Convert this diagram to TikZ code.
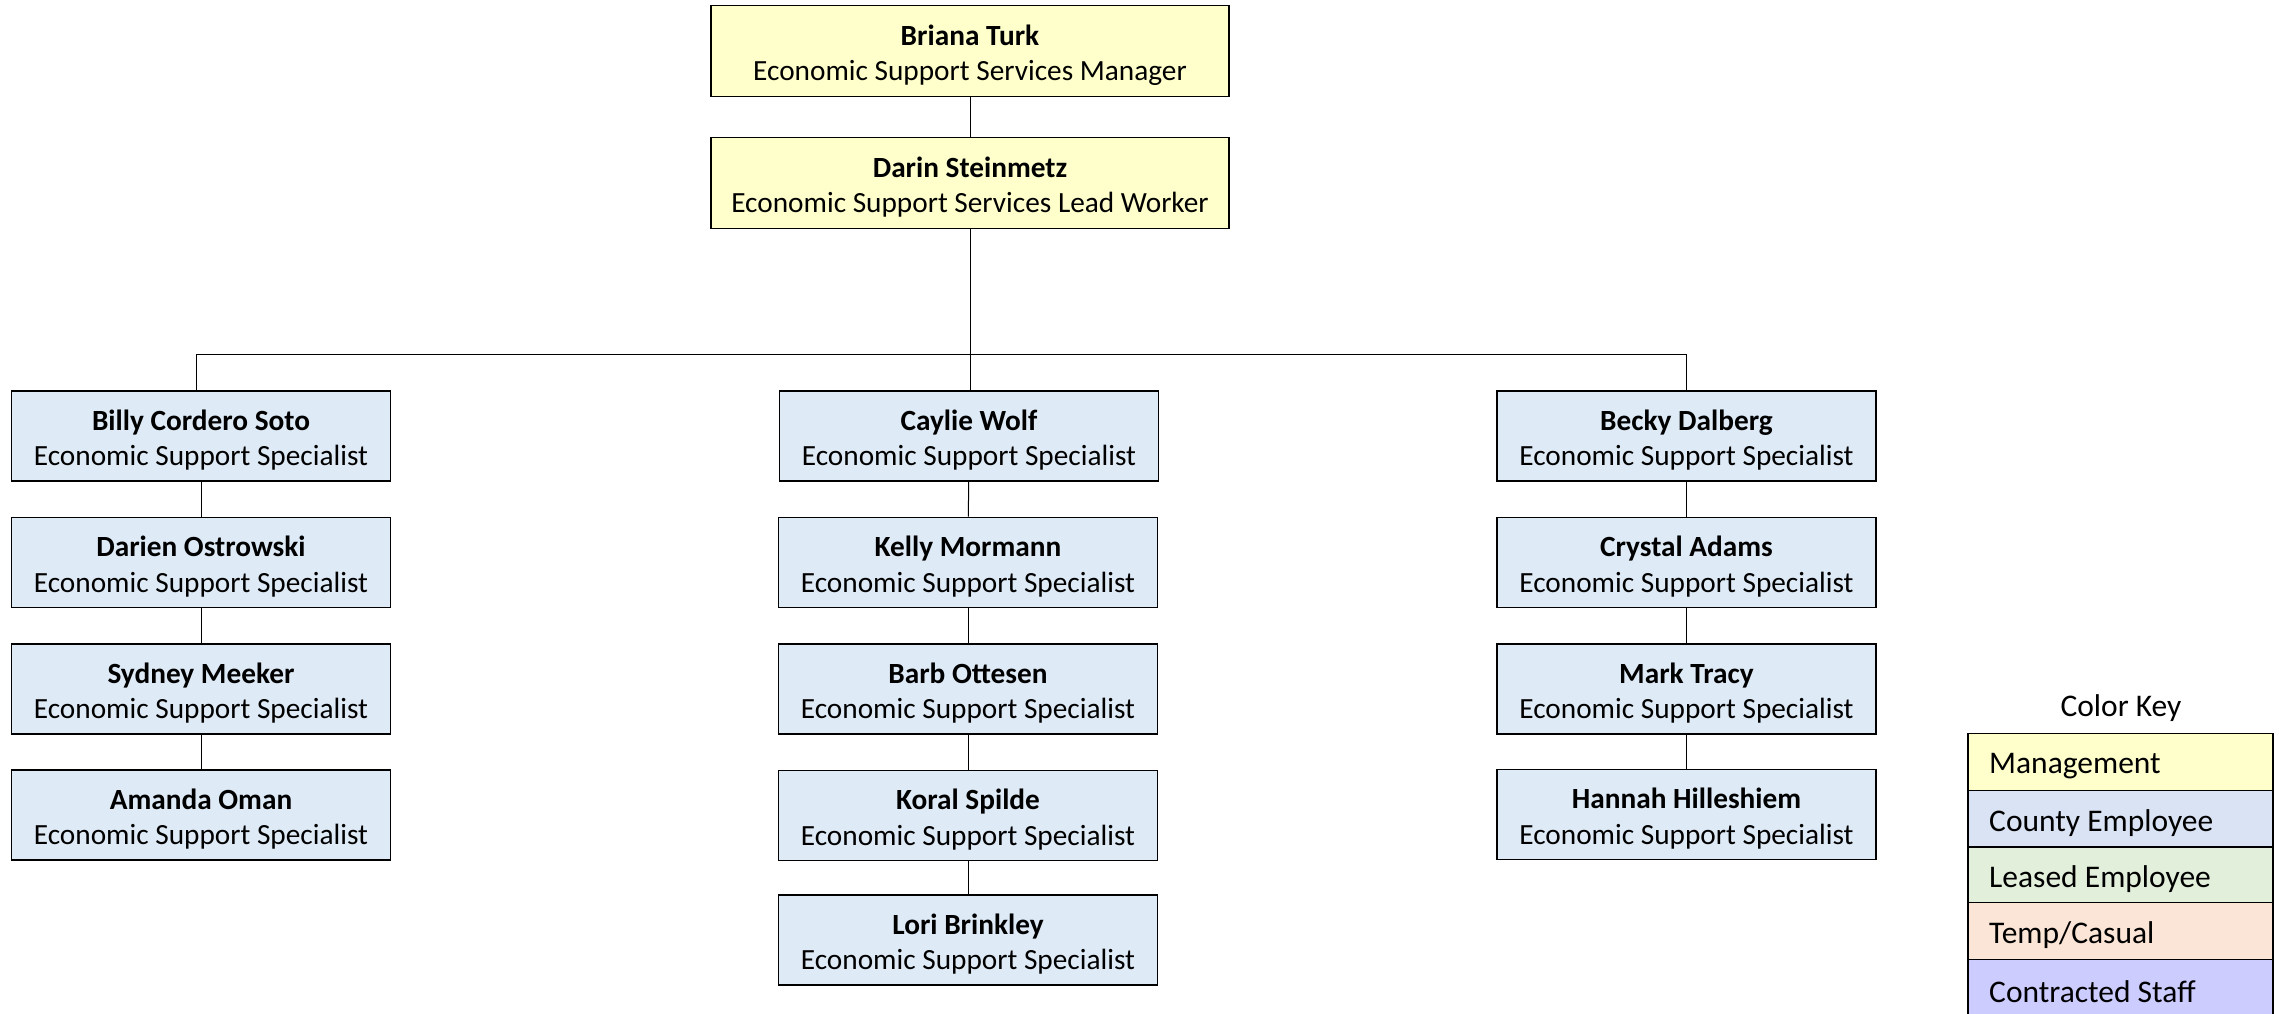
\documentclass[tikz,border=0pt]{standalone}
\usepackage{fontspec}
\setmainfont{Carlito}
\definecolor{mgmt}{HTML}{FFFFCC}
\definecolor{county}{HTML}{DEEAF6}
\definecolor{keycounty}{HTML}{DAE3F3}
\definecolor{leased}{HTML}{E2EFDA}
\definecolor{temp}{HTML}{FBE5D6}
\definecolor{contract}{HTML}{CCCCFF}
\newcommand{\pname}[1]{\rule{0pt}{29pt}\textbf{#1}}
\begin{document}
\begin{tikzpicture}[x=1pt,y=-1pt,
  box/.style={draw=black,line width=1.6pt,minimum width=379pt,minimum height=90pt,inner sep=0pt,align=center,font=\fontsize{29.3}{35.5}\selectfont},
  mbox/.style={box,fill=mgmt,minimum width=518pt,minimum height=91pt},
  cbox/.style={box,fill=county},
  conn/.style={draw=black,line width=1pt},
  keybox/.style={draw=black,line width=1.6pt,minimum width=305pt,minimum height=57pt,inner sep=0pt},
  keytext/.style={anchor=west,inner sep=0pt,yshift=-4pt,font=\fontsize{31.5}{36}\selectfont}]
\useasboundingbox (0,0) rectangle (2279,1013);
\node[mbox] (bt) at (970,51) {\pname{Briana Turk}\\Economic Support Services Manager};
\node[mbox] (ds) at (970,183) {\pname{Darin Steinmetz}\\Economic Support Services Lead Worker};
% left column
\node[cbox] (l1) at (201,436) {\pname{Billy Cordero Soto}\\Economic Support Specialist};
\node[cbox] (l2) at (201,562.5) {\pname{Darien Ostrowski}\\Economic Support Specialist};
\node[cbox] (l3) at (201,689) {\pname{Sydney Meeker}\\Economic Support Specialist};
\node[cbox] (l4) at (201,815) {\pname{Amanda Oman}\\Economic Support Specialist};
% middle column
\node[cbox] (m1) at (969,436) {\pname{Caylie Wolf}\\Economic Support Specialist};
\node[cbox] (m2) at (968,562.5) {\pname{Kelly Mormann}\\Economic Support Specialist};
\node[cbox] (m3) at (968,689) {\pname{Barb Ottesen}\\Economic Support Specialist};
\node[cbox] (m4) at (968,815.5) {\pname{Koral Spilde}\\Economic Support Specialist};
\node[cbox] (m5) at (968,940) {\pname{Lori Brinkley}\\Economic Support Specialist};
% right column
\node[cbox] (r1) at (1686.5,436) {\pname{Becky Dalberg}\\Economic Support Specialist};
\node[cbox] (r2) at (1686.5,562.5) {\pname{Crystal Adams}\\Economic Support Specialist};
\node[cbox] (r3) at (1686.5,689) {\pname{Mark Tracy}\\Economic Support Specialist};
\node[cbox] (r4) at (1686.5,814.5) {\pname{Hannah Hilleshiem}\\Economic Support Specialist};
% connectors
\coordinate (bus) at (970,354);
\draw[conn] (bt) -- (ds);
\draw[conn] (ds) -- (bus);
\draw[conn] (bus) -| (l1.north -| 196,0);
\draw[conn] (bus) -| (r1.north);
\draw[conn] (bus) -- (m1.north -| bus);
\draw[conn] (l1) -- (l2);
\draw[conn] (l2) -- (l3);
\draw[conn] (l3) -- (l4);
\draw[conn] (m1) -- (m2);
\draw[conn] (m2) -- (m3);
\draw[conn] (m3) -- (m4);
\draw[conn] (m4) -- (m5);
\draw[conn] (r1) -- (r2);
\draw[conn] (r2) -- (r3);
\draw[conn] (r3) -- (r4);
% color key
\node[font=\fontsize{31.5}{36}\selectfont] (keytitle) at (2121,708) {Color Key};
\node[keybox,fill=mgmt] (k1) at (2120.5,762) {};
\node[keybox,fill=keycounty] (k2) at (2120.5,819) {};
\node[keybox,fill=leased] (k3) at (2120.5,875.5) {};
\node[keybox,fill=temp] (k4) at (2120.5,931) {};
\node[keybox,fill=contract] (k5) at (2120.5,988) {};
\node[keytext] (t1) at (1989,762) {Management};
\node[keytext] (t2) at (1989,819) {County Employee};
\node[keytext] (t3) at (1989,875.5) {Leased Employee};
\node[keytext] (t4) at (1989,931) {Temp/Casual};
\node[keytext] (t5) at (1989,988) {Contracted Staff};
\end{tikzpicture}
\end{document}
